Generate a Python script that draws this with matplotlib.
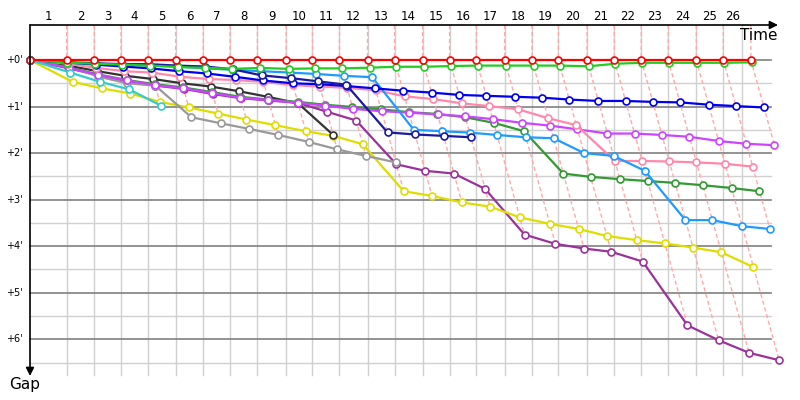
import matplotlib
matplotlib.use("Agg")
import matplotlib.pyplot as plt
from matplotlib.transforms import blended_transform_factory

# leader lap times in seconds (lap 1 includes the start)
leader_lap_s = [171, 129, 125, 127, 128, 129, 125, 128, 134, 123, 126, 131, 126,
                131, 126, 125, 132, 128, 123, 134, 127, 126, 126, 131, 126, 129]
chart_end_s = 3323

lap_labels = [str(i) for i in range(1, 27)]
gap_ticks = [0, 1, 2, 3, 4, 5, 6]
gap_tick_labels = ["+0'", "+1'", "+2'", "+3'", "+4'", "+5'", "+6'"]

# gap to the leader in minutes, one value per completed lap
red = [0.0, 0.0, 0.0, 0.0, 0.0, 0.0, 0.0, 0.0, 0.0, 0.0, 0.0, 0.0, 0.0,
       0.0, 0.0, 0.0, 0.0, 0.0, 0.0, 0.0, 0.0, 0.0, 0.0, 0.0, 0.0, 0.0]
green = [0.06, 0.08, 0.10, 0.12, 0.15, 0.17, 0.19, 0.17, 0.19, 0.18, 0.18, 0.165, 0.145,
         0.145, 0.13, 0.12, 0.12, 0.12, 0.12, 0.135, 0.08, 0.06, 0.06, 0.06, 0.06, 0.05]
blue = [0.05, 0.10, 0.14, 0.18, 0.24, 0.29, 0.36, 0.44, 0.50, 0.52, 0.56, 0.61, 0.66,
        0.70, 0.75, 0.77, 0.79, 0.81, 0.85, 0.88, 0.88, 0.90, 0.91, 0.96, 0.99, 1.02]
navy = [0.05, 0.07, 0.09, 0.09, 0.12, 0.14, 0.20, 0.33, 0.39, 0.46, 0.53, 1.555, 1.60,
        1.63, 1.66]
light_blue = [0.06, 0.08, 0.10, 0.12, 0.14, 0.18, 0.21, 0.24, 0.27, 0.30, 0.34, 0.37, 1.50,
              1.53, 1.56, 1.61, 1.66, 1.68, 2.00, 2.06, 2.38, 3.44, 3.44, 3.57, 3.63]
cyan = [0.27, 0.47, 0.63, 0.98]
pink = [0.08, 0.17, 0.24, 0.27, 0.36, 0.41, 0.43, 0.47, 0.54, 0.57, 0.60, 0.65, 0.78,
        0.84, 0.93, 0.99, 1.06, 1.25, 1.40, 2.17, 2.17, 2.18, 2.20, 2.23, 2.29]
magenta = [0.17, 0.32, 0.44, 0.54, 0.61, 0.71, 0.81, 0.86, 0.92, 0.98, 1.05, 1.10, 1.13,
           1.17, 1.21, 1.27, 1.35, 1.41, 1.49, 1.58, 1.58, 1.61, 1.65, 1.74, 1.80, 1.83]
dark_green = [0.16, 0.31, 0.43, 0.52, 0.59, 0.69, 0.79, 0.85, 0.90, 0.96, 1.01, 1.06, 1.12,
              1.16, 1.23, 1.35, 1.53, 2.44, 2.51, 2.56, 2.60, 2.64, 2.69, 2.75, 2.82]
black = [0.12, 0.24, 0.34, 0.41, 0.50, 0.57, 0.67, 0.79, 0.93, 1.61]
gray = [0.14, 0.36, 0.50, 0.55, 1.23, 1.36, 1.48, 1.61, 1.76, 1.92, 2.06, 2.20]
yellow = [0.47, 0.61, 0.72, 0.90, 1.02, 1.15, 1.28, 1.40, 1.53, 1.63, 1.81, 2.82, 2.92,
          3.06, 3.15, 3.38, 3.52, 3.63, 3.78, 3.87, 3.94, 4.03, 4.13, 4.45]
purple = [0.18, 0.33, 0.45, 0.55, 0.62, 0.73, 0.82, 0.87, 0.92, 1.11, 1.30, 2.24, 2.38,
          2.44, 2.77, 3.75, 3.95, 4.05, 4.12, 4.33, 5.70, 6.02, 6.29, 6.45]

series = [
    (purple, "#993399"),
    (yellow, "#dddd00"),
    (gray, "#999999"),
    (black, "#333333"),
    (dark_green, "#339933"),
    (magenta, "#cc44ff"),
    (pink, "#ff88aa"),
    (light_blue, "#1e9bff"),
    (blue, "#0000ee"),
    (navy, "#1a1aa0"),
    (green, "#22cc22"),
    (cyan, "#33cccc"),
    (red, "#ff0000"),
]

# leader's lap completion times in minutes
leader_t = []
total = 0.0
for s in leader_lap_s:
    total += s
    leader_t.append(total / 60)
end_t = chart_end_s / 60

fig = plt.figure(figsize=(8, 4), dpi=100)
ax = fig.add_axes([0, 0, 1, 1])
ax.set_xlim(-30 / 12.85, 770 / 12.85)
ax.set_ylim(340 / 46.55, -60 / 46.55)
ax.axis("off")

top = -35 / 46.55
bottom = 315 / 46.55
right = 741 / 12.85

# grid
for g in gap_ticks:
    ax.plot([0, right], [g, g], color="#808080", lw=1.2, zorder=1)
    ax.plot([0, right], [g + 0.5, g + 0.5], color="#d0d0d0", lw=1.0, zorder=0.5)
for t in leader_t[:-1] + [end_t]:
    ax.plot([t, t], [top, bottom], color="#d0d0d0", lw=1.0, zorder=0.5)

# lap lines through every car at the same lap
for i, t in enumerate(leader_t):
    gaps_at_lap = [s[i] for s, c in series if len(s) > i]
    g_max = max(gaps_at_lap)
    ax.plot([t, t, t + g_max], [top, 0, g_max], color="#ffaaaa", lw=1.0,
            dashes=(3, 2), zorder=2)

# cars
for gaps, color in series:
    xs = [0] + [leader_t[i] + g for i, g in enumerate(gaps)]
    ys = [0] + gaps
    ax.plot(xs, ys, color=color, lw=1.6, marker="o", ms=5, mfc="white",
            mec=color, mew=1.2, zorder=3)

# axes with arrows
ax.annotate("", xy=(778 / 12.85 - 30 / 12.85, top), xytext=(0, top),
            arrowprops=dict(arrowstyle="-|>", color="black", lw=1.2,
                            mutation_scale=12, shrinkA=0, shrinkB=0), zorder=5)
ax.annotate("", xy=(0, 316 / 46.55), xytext=(0, top),
            arrowprops=dict(arrowstyle="-|>", color="black", lw=1.2,
                            mutation_scale=12, shrinkA=0, shrinkB=0), zorder=5)

tr_x = blended_transform_factory(ax.transData, ax.transAxes)
tr_y = blended_transform_factory(ax.transAxes, ax.transData)

edges = [0] + leader_t[:-1] + [end_t]
for i, lab in enumerate(lap_labels):
    ax.text((edges[i] + edges[i + 1]) / 2, 1 - 17 / 400, lab, transform=tr_x,
            ha="center", va="center", fontsize=8.5)

for g, lab in zip(gap_ticks, gap_tick_labels):
    ax.text(23 / 800, g, lab, transform=tr_y, ha="right", va="center", fontsize=7)

ax.text(777 / 800, 1 - 36 / 400, "Time", transform=ax.transAxes,
        ha="right", va="center", fontsize=11)
ax.text(25 / 800, 1 - 385 / 400, "Gap", transform=ax.transAxes,
        ha="center", va="center", fontsize=11)

fig.savefig("out.png", dpi=100)
